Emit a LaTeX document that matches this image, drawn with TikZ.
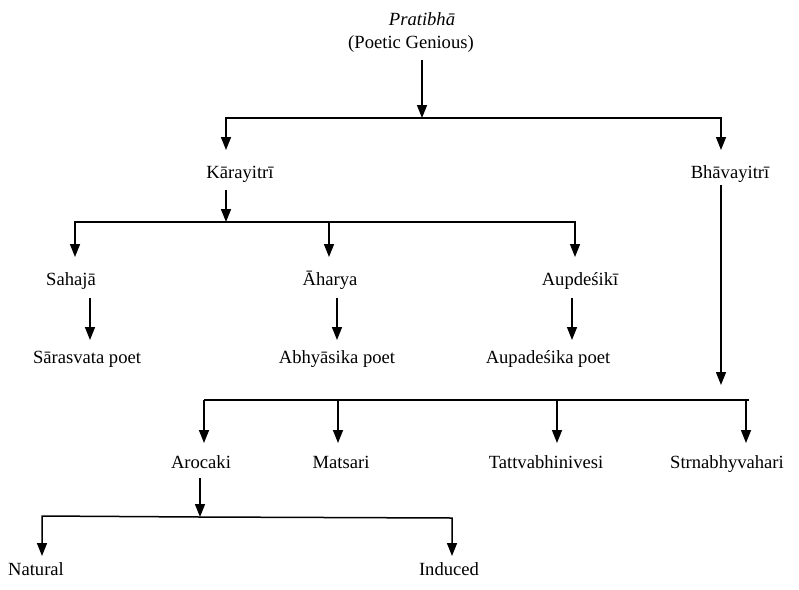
\documentclass[tikz,border=0pt]{standalone}
\usepackage{fontspec}
\setmainfont{Liberation Serif}
\usetikzlibrary{arrows.meta}
\begin{document}
\begin{tikzpicture}[x=1pt,y=-1pt,
  lbl/.style={inner sep=0pt,anchor=base,font=\fontsize{18.6}{20}\selectfont},
  conn/.style={line width=1.5pt},
  arr/.style={conn,-{Triangle[width=10pt,length=13pt]}}]
\useasboundingbox (0,0) rectangle (799,589);
% labels
\node[lbl] (prat) at (422,25) {\itshape Pratibh\=a};
\node[lbl] (poet) at (411,48) {(Poetic Genious)};
\node[lbl] (kara) at (240,178) {K\=arayitr\=\i};
\node[lbl] (bhav) at (730,178) {Bh\=avayitr\=\i};
\node[lbl] (saha) at (71,285) {Sahaj\=a};
\node[lbl] (ahar) at (330,285) {\=Aharya};
\node[lbl] (aupd) at (580,285) {Aupde\'sik\=\i};
\node[lbl] (sara) at (87,363) {S\=arasvata poet};
\node[lbl] (abhy) at (337,363) {Abhy\=asika poet};
\node[lbl] (aupa) at (548,363) {Aupade\'sika poet};
\node[lbl] (aroc) at (201,468) {Arocaki};
\node[lbl] (mats) at (341,468) {Matsari};
\node[lbl] (tatt) at (546,468) {Tattvabhinivesi};
\node[lbl] (strn) at (727,468) {Strnabhyvahari};
\node[lbl] (natu) at (36,575) {Natural};
\node[lbl] (indu) at (449,575) {Induced};
% junction coordinates
\coordinate (j0) at (422,118);
\coordinate (j1) at (226,222);
\coordinate (j2) at (721,400);
\coordinate (j3) at (200,517);
% top
\draw[arr] (422,60) -- (j0);
\draw[arr] (j0) -| (226,150);
\draw[arr] (j0) -| (721,150);
% Karayitri
\draw[arr] (226,190) -- (j1);
\draw[arr] (j1) -| (75,257);
\draw[arr] (j1) -| (329,257);
\draw[arr] (j1) -| (575,257);
\draw[arr] (90,298) -- (90,340);
\draw[arr] (337,298) -- (337,340);
\draw[arr] (572,298) -- (572,340);
% Bhavayitri
\draw[arr] (721,185) -- (721,385);
\draw[conn] (204,400) -- (749,400);
\draw[arr] (204,400) -- (204,443);
\draw[arr] (338,400) -- (338,443);
\draw[arr] (557,400) -- (557,443);
\draw[arr] (746,400) -- (746,443);
% Arocaki
\draw[arr] (200,478) -- (j3);
\draw[arr] (j3) -- (42,516) -- (42,556);
\draw[arr] (j3) -- (452,518) -- (452,556);
\end{tikzpicture}
\end{document}
